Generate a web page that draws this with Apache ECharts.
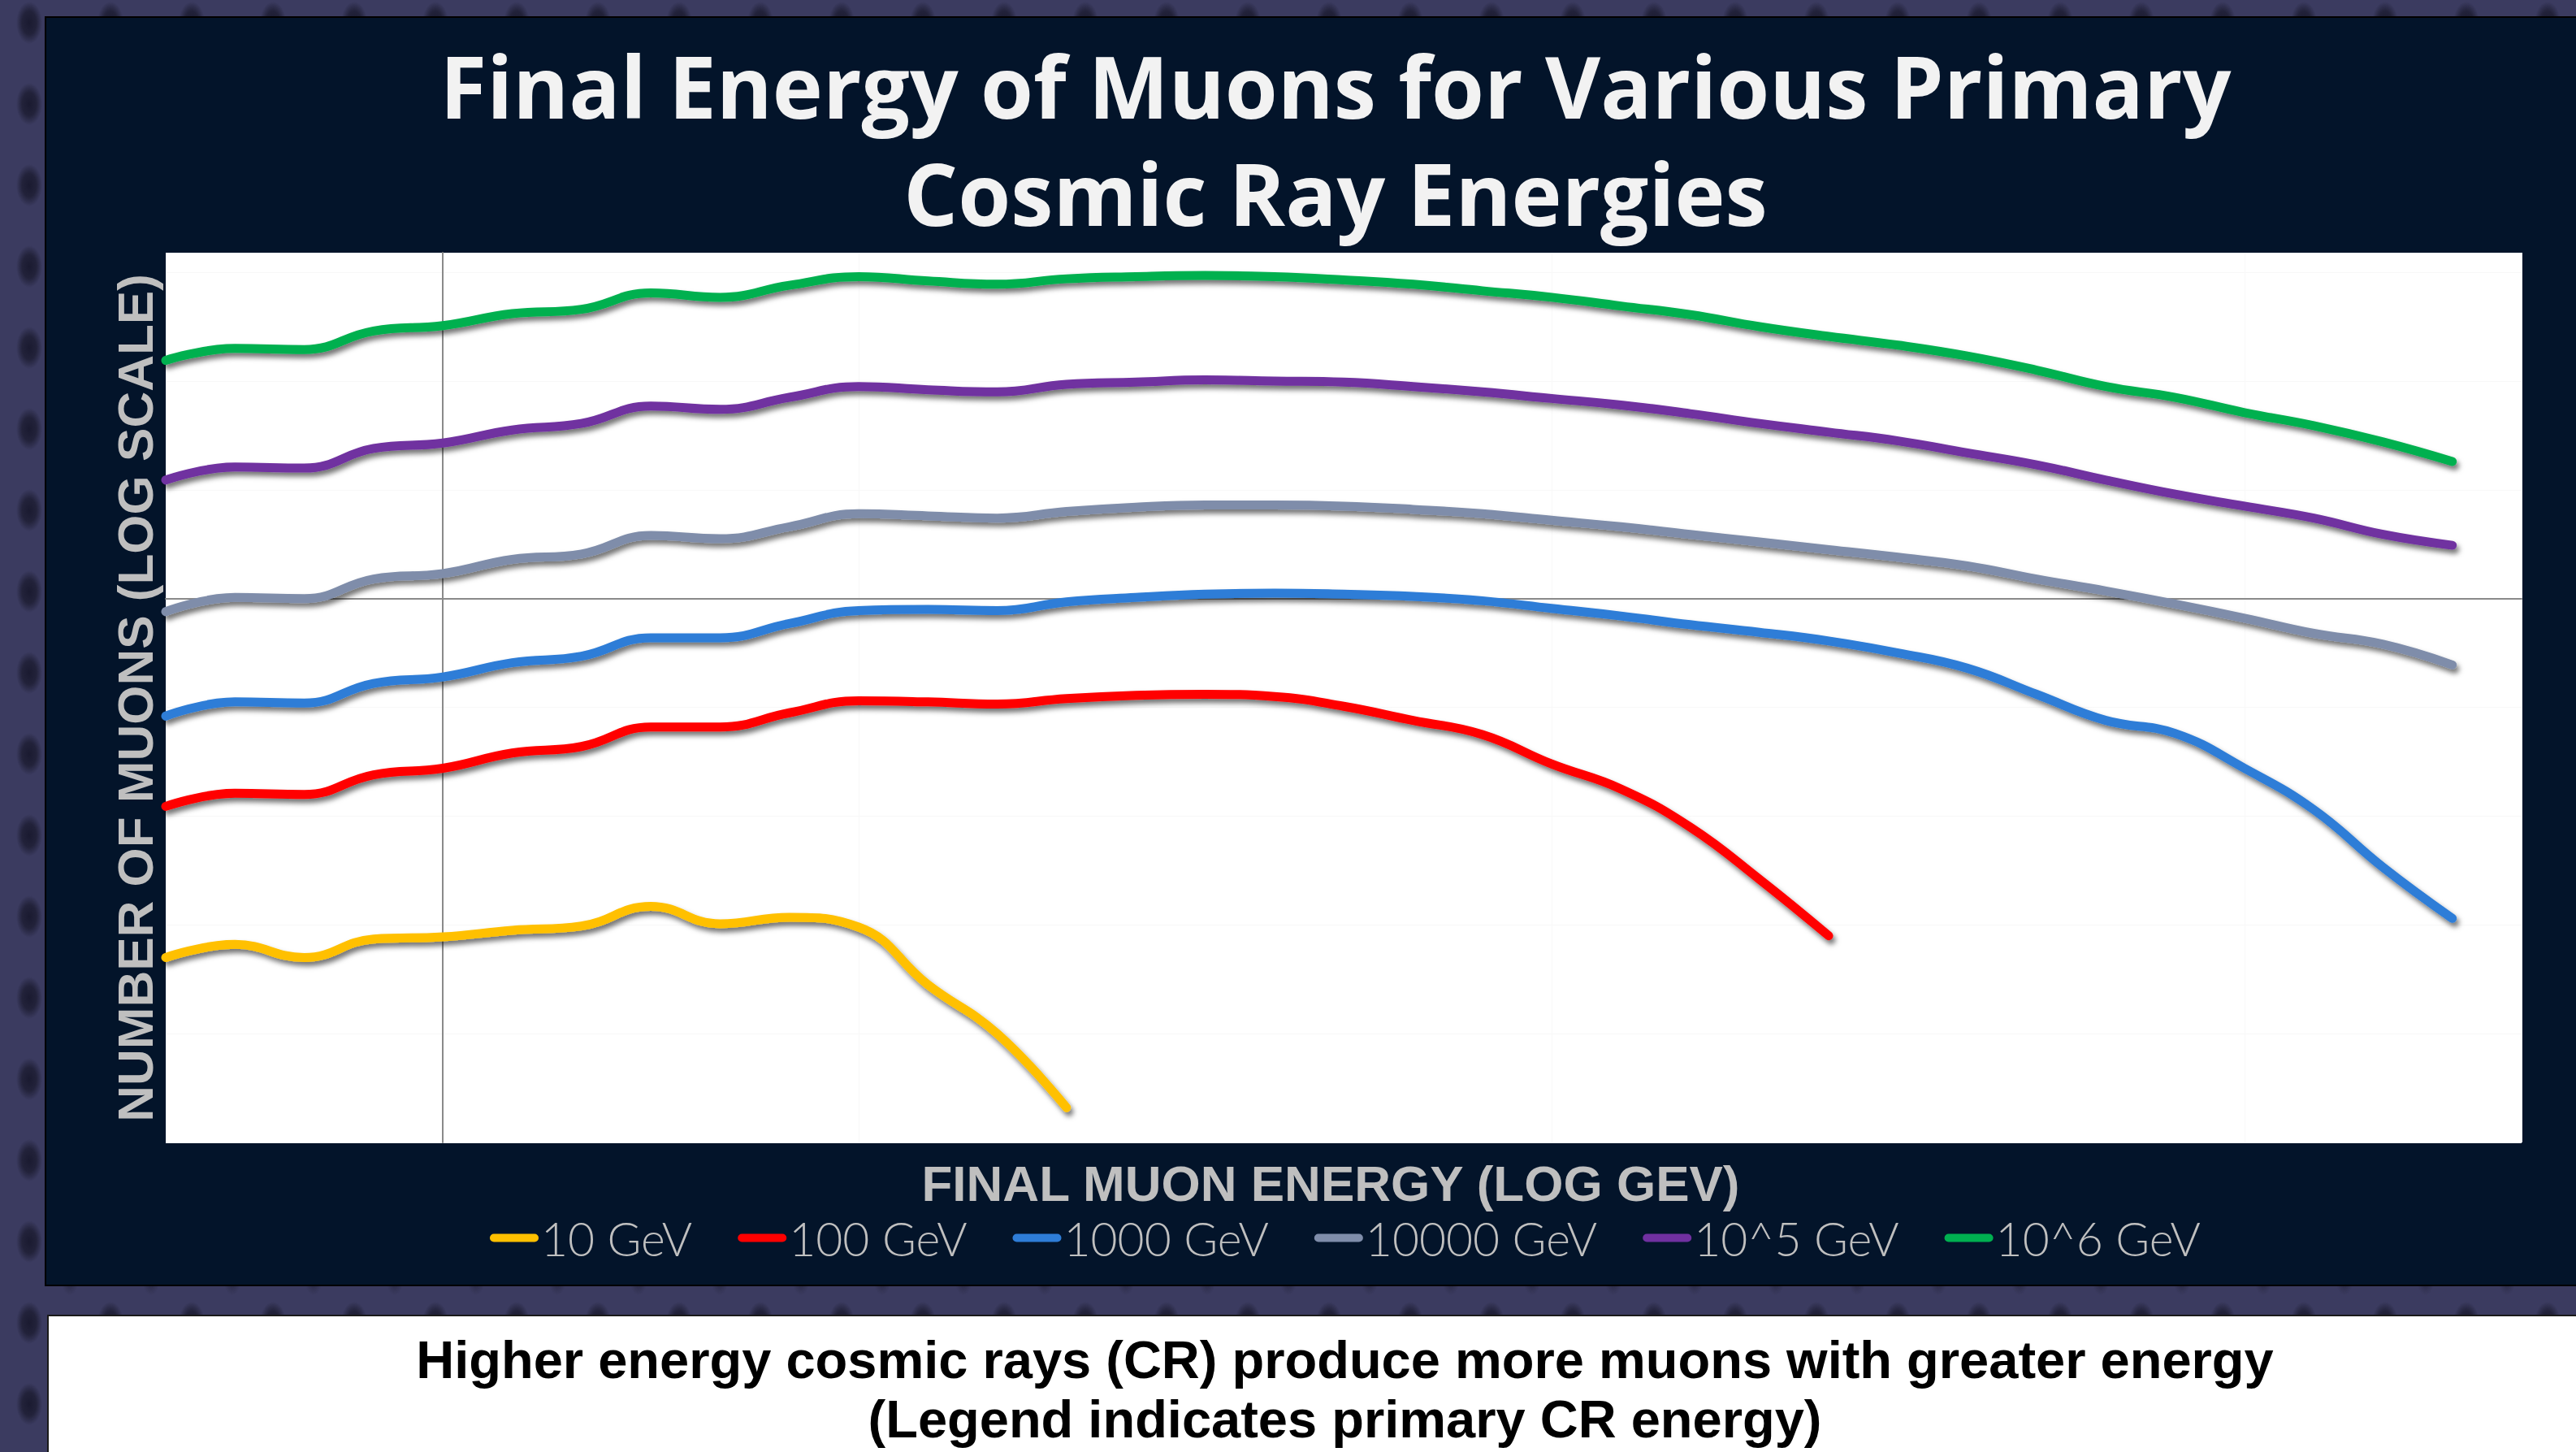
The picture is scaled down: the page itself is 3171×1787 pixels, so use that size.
<!DOCTYPE html>
<html>
<head>
<meta charset="utf-8">
<script src="https://cdn.jsdelivr.net/npm/echarts@6/dist/echarts.min.js"></script>
<style>
html,body{margin:0;padding:0;width:3171px;height:1787px;overflow:hidden;}
body{
  background-color:#3b3b60;
  background-image:
    radial-gradient(ellipse 16px 26px at 50% 50%, #1a1a30 0%, #22223a 55%, rgba(34,34,58,0) 100%),
    radial-gradient(ellipse 10px 16px at 50% 50%, #2a2a45 0%, rgba(42,42,69,0) 100%);
  background-size:100px 100px, 100px 100px;
  background-position:-14px -22px, 36px 28px;
}
#panel{position:absolute;left:55px;top:20px;width:3116px;height:1563px;background:#03142a;border:2px solid #000;border-right:none;box-sizing:border-box;}
#caption{position:absolute;left:58px;top:1618px;width:3113px;height:169px;background:#fff;border-top:2px solid #1a1a1a;border-left:2px solid #1a1a1a;box-sizing:border-box;
  text-align:center;font-family:'Liberation Sans',Arial,sans-serif;font-weight:bold;font-size:65px;line-height:73px;color:#000;padding-top:17px;padding-left:80px;}
#chart{position:absolute;left:0;top:0;width:3171px;height:1787px;}
</style>
</head>
<body>
<div id="panel"></div>
<div id="caption">Higher energy cosmic rays (CR) produce more muons with greater energy<br>(Legend indicates primary CR energy)</div>
<div id="chart"></div>
<script>
// x: log10 of final muon energy (GeV)
const LOG_E = [-0.4,-0.3,-0.2,-0.1,0.0,0.1,0.2,0.3,0.4,0.5,0.6,0.7,0.8,0.9,1.0,1.1,1.2,1.3,1.4,1.5,1.6,1.7,1.8,1.9,2.0,2.1,2.2,2.3,2.4,2.5,2.6,2.7,2.8,2.9];

// y: log10 of number of muons, one array per primary cosmic-ray energy
const CR_10GEV    = [-3.30,-3.18,-3.30,-3.13,-3.11,-3.05,-3.01,-2.83,-2.99,-2.93,-3.02,-3.55,-4.00,-4.68];
const CR_100GEV   = [-1.91,-1.79,-1.80,-1.62,-1.56,-1.42,-1.36,-1.18,-1.18,-1.05,-0.94,-0.95,-0.97,-0.92,-0.89,-0.88,-0.90,-0.99,-1.12,-1.25,-1.52,-1.75,-2.10,-2.58,-3.10];
const CR_1000GEV  = [-1.08,-0.95,-0.96,-0.78,-0.72,-0.59,-0.53,-0.36,-0.36,-0.23,-0.11,-0.10,-0.11,-0.03,0.01,0.04,0.05,0.04,0.02,-0.02,-0.09,-0.16,-0.24,-0.31,-0.39,-0.50,-0.64,-0.88,-1.12,-1.24,-1.56,-1.94,-2.47,-2.94];
const CR_10000GEV = [-0.12,0.01,0.00,0.18,0.23,0.36,0.41,0.58,0.55,0.66,0.78,0.76,0.74,0.80,0.84,0.86,0.86,0.85,0.82,0.78,0.72,0.66,0.59,0.52,0.45,0.38,0.30,0.18,0.07,-0.05,-0.18,-0.32,-0.42,-0.61];
const CR_1E5GEV   = [1.09,1.21,1.20,1.38,1.43,1.55,1.61,1.77,1.74,1.85,1.95,1.92,1.90,1.97,1.99,2.01,2.00,1.99,1.95,1.90,1.84,1.78,1.70,1.61,1.53,1.45,1.34,1.23,1.09,0.96,0.85,0.74,0.59,0.49];
const CR_1E6GEV   = [2.19,2.30,2.29,2.46,2.51,2.62,2.66,2.81,2.77,2.88,2.96,2.92,2.89,2.94,2.96,2.97,2.96,2.93,2.89,2.83,2.77,2.69,2.61,2.50,2.41,2.33,2.23,2.10,1.95,1.85,1.71,1.59,1.44,1.26];

const SERIES_NAMES = ['10 GeV','100 GeV','1000 GeV','10000 GeV','10^5 GeV','10^6 GeV'];
const SERIES_VALUES = [CR_10GEV, CR_100GEV, CR_1000GEV, CR_10000GEV, CR_1E5GEV, CR_1E6GEV];
const COLORS = ['#FFC000','#FF0000','#2E7DD7','#7F8DAA','#7030A0','#00B050'];

const TITLE_LINES = ['Final Energy of Muons for Various Primary','Cosmic Ray Energies'];
const X_TITLE = 'FINAL MUON ENERGY (LOG GEV)';
const Y_TITLE = 'NUMBER OF MUONS (LOG SCALE)';

const chart = echarts.init(document.getElementById('chart'), null, {renderer:'svg'});

const series = SERIES_VALUES.map((vals, k) => ({
  name: SERIES_NAMES[k],
  type: 'line',
  xAxisIndex: 0,
  yAxisIndex: 0,
  smooth: 0.45,
  showSymbol: false,
  symbol: 'none',
  color: COLORS[k],
  lineStyle: {
    width: 11, color: COLORS[k], cap: 'round', join: 'round',
    shadowColor: 'rgba(0,0,0,0.55)', shadowBlur: 6, shadowOffsetX: 3, shadowOffsetY: 5
  },
  emphasis: {disabled: true},
  data: vals.map((v, i) => [LOG_E[i], v])
}));

const axisTitleFont = 'bold 62px "Liberation Sans", Arial, sans-serif';

const option = {
  animation: false,
  backgroundColor: 'transparent',
  grid: {left: 204, top: 311, width: 2900, height: 1095, show: true, backgroundColor: '#ffffff', borderWidth: 0},
  xAxis: [
    {type: 'value', min: -0.4, max: 3.0,
     axisLine: {show: true, onZero: true, onZeroAxisIndex: 0, lineStyle: {color: '#8a8a8a', width: 2}},
     axisTick: {show: false}, axisLabel: {show: false}, splitLine: {show: false}},
    {type: 'value', min: 0, max: 3.4, interval: 1, position: 'bottom',
     axisLine: {show: false}, axisTick: {show: false}, axisLabel: {show: false},
     splitLine: {show: true, lineStyle: {color: '#f8f8f8', width: 1}}}
  ],
  yAxis: [
    {type: 'value', min: -5, max: 3.18, interval: 1,
     axisLine: {show: true, onZero: true, onZeroAxisIndex: 0, lineStyle: {color: '#8a8a8a', width: 2}},
     axisTick: {show: false}, axisLabel: {show: false},
     splitLine: {show: true, lineStyle: {color: '#f8f8f8', width: 1}}}
  ],
  legend: {
    left: 598, top: 1490,
    itemWidth: 60, itemHeight: 11, itemGap: 56,
    icon: 'path://M5,0 L55,0 A5,5 0 0 1 55,10 L5,10 A5,5 0 0 1 5,0 Z',
    textStyle: {color: '#bfbfbf', fontSize: 57, fontFamily: 'Lato', fontWeight: 300, padding: [0,0,0,-2]},
    data: SERIES_NAMES,
    selectedMode: false
  },
  graphic: [
    {type: 'text', x: 1644, y: 171, style: {text: TITLE_LINES.join('\n'), fontSize: 105, fontWeight: 700, fontFamily: '"Open Sans", Lato, sans-serif', lineHeight: 132, fill: '#f2f2f2', textAlign: 'center', textVerticalAlign: 'middle', align: 'center', verticalAlign: 'middle', shadowColor: 'rgba(0,0,0,0.85)', shadowBlur: 4, shadowOffsetX: 3, shadowOffsetY: 3}},
    {type: 'text', x: 1638, y: 1456, style: {text: X_TITLE, font: axisTitleFont, fill: '#bfbfbf', textAlign: 'center', textVerticalAlign: 'middle', align: 'center', verticalAlign: 'middle', shadowColor: 'rgba(0,0,0,0.6)', shadowBlur: 2, shadowOffsetX: 2, shadowOffsetY: 2}},
    {type: 'text', x: 166, y: 859, rotation: Math.PI / 2, style: {text: Y_TITLE, font: axisTitleFont, fill: '#bfbfbf', textAlign: 'center', textVerticalAlign: 'middle', align: 'center', verticalAlign: 'middle', shadowColor: 'rgba(0,0,0,0.6)', shadowBlur: 2, shadowOffsetX: 2, shadowOffsetY: 2}}
  ],
  series: series
};
chart.setOption(option);
</script>
</body>
</html>
